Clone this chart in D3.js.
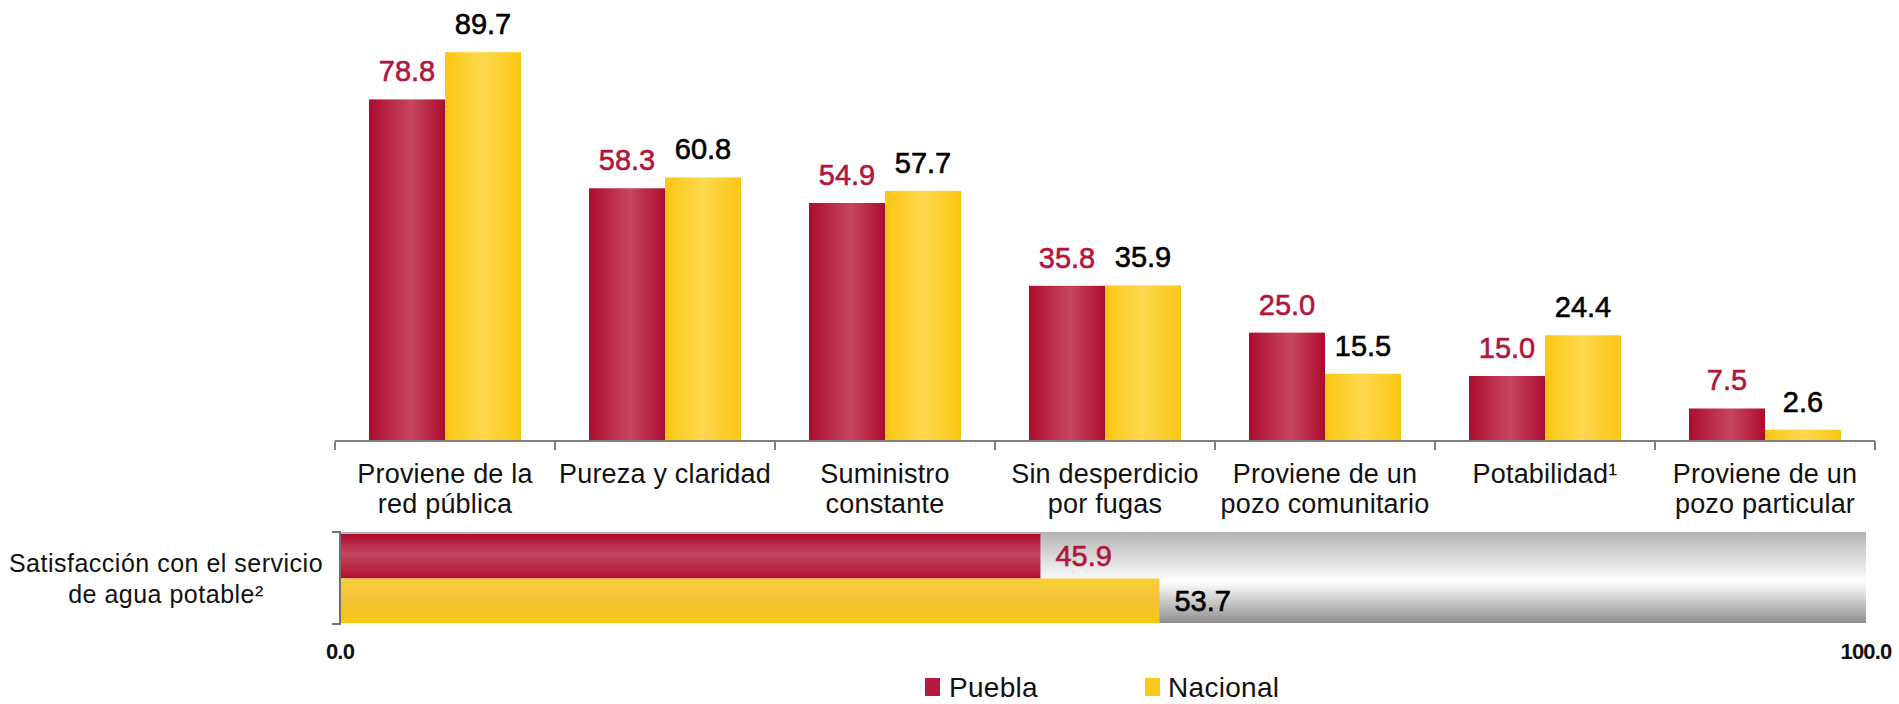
<!DOCTYPE html>
<html>
<head>
<meta charset="utf-8">
<script src="https://cdn.jsdelivr.net/npm/d3@7"></script>
<style>
  html, body { margin: 0; padding: 0; background: #fff; }
  svg { display: block; font-family: "Liberation Sans", Arial, sans-serif; }
</style>
</head>
<body>
<svg id="chart" width="1899" height="704"></svg>
<script>
// ---- data ----
const categories = [
  ["Proviene de la", "red pública"],
  ["Pureza y claridad"],
  ["Suministro", "constante"],
  ["Sin desperdicio", "por fugas"],
  ["Proviene de un", "pozo comunitario"],
  ["Potabilidad¹"],
  ["Proviene de un", "pozo particular"]
];
const series = ["Puebla", "Nacional"];
const pueblaValues = [78.8, 58.3, 54.9, 35.8, 25.0, 15.0, 7.5];
const nacionalValues = [89.7, 60.8, 57.7, 35.9, 15.5, 24.4, 2.6];
const satisfactionLabel = ["Satisfacción con el servicio", "de agua potable²"];
const satisfactionValues = [45.9, 53.7]; // Puebla, Nacional
const hTickLabels = [[0, "0.0"], [100, "100.0"]];

const svg = d3.select("#chart");
const defs = svg.append("defs");

// gradients
function hGrad(id, stops) {
  const g = defs.append("linearGradient").attr("id", id)
    .attr("x1", "0%").attr("x2", "100%").attr("y1", "0%").attr("y2", "0%");
  stops.forEach(s => g.append("stop").attr("offset", s[0]).attr("stop-color", s[1]));
}
function vGrad(id, stops) {
  const g = defs.append("linearGradient").attr("id", id)
    .attr("x1", "0%").attr("x2", "0%").attr("y1", "0%").attr("y2", "100%");
  stops.forEach(s => g.append("stop").attr("offset", s[0]).attr("stop-color", s[1]));
}
hGrad("redV", [["0%", "#ad0c2e"], ["55%", "#c6475f"], ["100%", "#ad0c2e"]]);
hGrad("yelV", [["0%", "#fcc713"], ["50%", "#fdd84e"], ["100%", "#fcc713"]]);
vGrad("redH", [["0%", "#ad0c2e"], ["45%", "#c34560"], ["100%", "#b30f31"]]);
vGrad("yelH", [["0%", "#f8d03a"], ["45%", "#f3c338"], ["100%", "#f8c815"]]);
vGrad("grayH", [["0%", "#b4b4b4"], ["55%", "#ffffff"], ["100%", "#8e8e8e"]]);

const fills = { Puebla: "url(#redV)", Nacional: "url(#yelV)" };
const fillsH = { Puebla: "url(#redH)", Nacional: "url(#yelH)" };
const labelColors = { Puebla: "#b1163b", Nacional: "#000000" };
const legendColors = { Puebla: "#b8193f", Nacional: "#fcc91a" };

// ---- vertical grouped bars ----
const catKeys = categories.map(c => c.join(" "));
const x0 = d3.scaleBand().domain(catKeys).range([335, 1875])
  .paddingInner(0.309).paddingOuter(0.1545);
const x1 = d3.scaleBand().domain(series).range([0, x0.bandwidth()]);
const y = d3.scaleLinear().domain([0, 100]).range([441, 441 - 433.5]);

const rows = catKeys.map((k, i) => ({
  key: k, lines: categories[i],
  values: [
    { s: "Puebla", v: pueblaValues[i] },
    { s: "Nacional", v: nacionalValues[i] }
  ]
}));

const groups = svg.append("g").selectAll("g").data(rows).join("g")
  .attr("transform", d => `translate(${x0(d.key)},0)`);

groups.selectAll("rect").data(d => d.values).join("rect")
  .attr("x", d => x1(d.s))
  .attr("width", x1.bandwidth())
  .attr("y", d => y(d.v))
  .attr("height", d => y(0) - y(d.v))
  .attr("fill", d => fills[d.s]);

groups.selectAll("text.val").data(d => d.values).join("text")
  .attr("class", "val")
  .attr("x", d => x1(d.s) + x1.bandwidth() / 2)
  .attr("y", d => y(d.v) - 18)
  .attr("text-anchor", "middle")
  .attr("font-size", 29)
  .attr("fill", d => labelColors[d.s])
  .attr("stroke", d => labelColors[d.s])
  .attr("stroke-width", 0.6)
  .text(d => d.v.toFixed(1));

// category axis (ticks at category boundaries)
const axisG = svg.append("g").attr("stroke", "#808080").attr("stroke-width", 2);
const r0 = x0.range()[0], r1 = x0.range()[1];
axisG.append("line").attr("x1", r0).attr("x2", r1).attr("y1", y(0)).attr("y2", y(0));
d3.range(catKeys.length + 1).forEach(i => {
  const bx = r0 + i * x0.step();
  axisG.append("line").attr("x1", bx).attr("x2", bx).attr("y1", y(0)).attr("y2", y(0) + 9);
});

// category labels
const catLabels = svg.append("g").selectAll("text").data(rows).join("text")
  .attr("x", d => x0(d.key) + x0.bandwidth() / 2)
  .attr("y", 483)
  .attr("text-anchor", "middle")
  .attr("font-size", 27)
  .attr("letter-spacing", 0.2)
  .attr("fill", "#111");
catLabels.selectAll("tspan").data(d => d.lines).join("tspan")
  .attr("x", function () { return d3.select(this.parentNode).attr("x"); })
  .attr("dy", (d, i) => i === 0 ? 0 : 30)
  .text(d => d);

// ---- horizontal satisfaction bars ----
const xh = d3.scaleLinear().domain([0, 100]).range([340, 1866]);
const yh = d3.scaleBand().domain(series).range([534, 623]);

svg.append("rect")
  .attr("x", xh(0)).attr("y", 532)
  .attr("width", xh(100) - xh(0)).attr("height", 623 - 532)
  .attr("fill", "url(#grayH)");

const hData = series.map((s, i) => ({ s, v: satisfactionValues[i] }));
svg.append("g").selectAll("rect").data(hData).join("rect")
  .attr("x", xh(0) + 1)
  .attr("y", d => yh(d.s))
  .attr("width", d => xh(d.v) - xh(0) - 1)
  .attr("height", yh.bandwidth())
  .attr("fill", d => fillsH[d.s]);

svg.append("g").selectAll("text").data(hData).join("text")
  .attr("x", d => xh(d.v) + 15)
  .attr("y", d => yh(d.s) + yh.bandwidth() / 2 + 10)
  .attr("font-size", 29)
  .attr("fill", d => labelColors[d.s])
  .attr("stroke", d => labelColors[d.s])
  .attr("stroke-width", 0.6)
  .text(d => d.v.toFixed(1));

// left bracket axis
const hb = svg.append("g").attr("stroke", "#707070").attr("stroke-width", 2).attr("fill", "none");
hb.append("path").attr("d", `M${xh(0) - 8},532 H${xh(0)} V624 H${xh(0) - 8}`);

// tick labels 0.0 / 100.0
svg.append("g").selectAll("text").data(hTickLabels).join("text")
  .attr("x", d => xh(d[0]))
  .attr("y", 659)
  .attr("text-anchor", "middle")
  .attr("font-size", 22)
  .attr("font-weight", "bold")
  .attr("letter-spacing", -0.8)
  .attr("fill", "#111")
  .text(d => d[1]);

// left label
svg.append("text")
  .attr("x", 166).attr("y", 572)
  .attr("text-anchor", "middle")
  .attr("font-size", 25)
  .attr("letter-spacing", 0.5)
  .attr("fill", "#111")
  .selectAll("tspan").data(satisfactionLabel).join("tspan")
  .attr("x", 166)
  .attr("dy", (d, i) => i === 0 ? 0 : 31)
  .text(d => d);

// ---- legend ----
const legendPos = { Puebla: [925, 949], Nacional: [1145, 1168] };
const leg = svg.append("g").selectAll("g").data(series).join("g");
leg.append("rect")
  .attr("x", d => legendPos[d][0]).attr("y", 678)
  .attr("width", 15).attr("height", 18)
  .attr("fill", d => legendColors[d]);
leg.append("text")
  .attr("x", d => legendPos[d][1]).attr("y", 697)
  .attr("font-size", 28)
  .attr("letter-spacing", 0.3)
  .attr("fill", "#111")
  .text(d => d);
</script>
</body>
</html>
